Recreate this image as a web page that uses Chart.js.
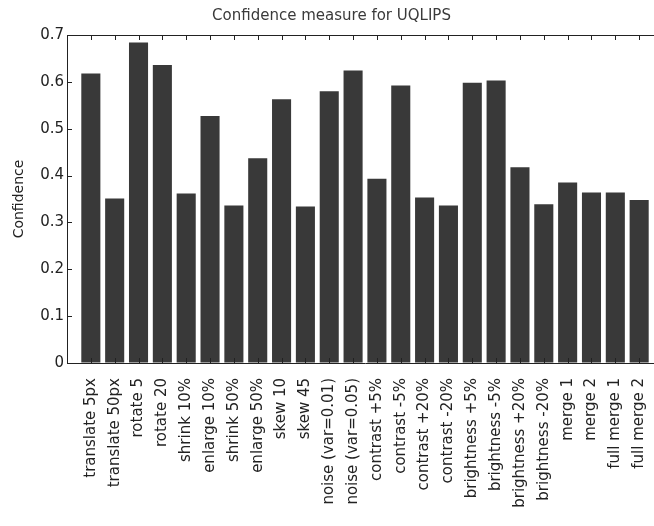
<!DOCTYPE html>
<html>
<head>
<meta charset="utf-8">
<title>Confidence measure for UQLIPS</title>
<script src="https://cdn.jsdelivr.net/npm/chart.js@4"></script>
<style>
    html, body { margin: 0; padding: 0; background: #fff; overflow: hidden; }
    #wrap { width: 654px; height: 526px; overflow: hidden; }
    canvas { display: block; }
</style>
</head>
<body>
<div id="wrap"><canvas id="confChart" width="670" height="526"></canvas></div>
<script>
// Distortions applied to the images
const categories = [
    'translate 5px', 'translate 50px', 'rotate 5', 'rotate 20',
    'shrink 10%', 'enlarge 10%', 'shrink 50%', 'enlarge 50%',
    'skew 10', 'skew 45', 'noise (var=0.01)', 'noise (var=0.05)',
    'contrast +5%', 'contrast -5%', 'contrast +20%', 'contrast -20%',
    'brightness +5%', 'brightness -5%', 'brightness +20%', 'brightness -20%',
    'merge 1', 'merge 2', 'full merge 1', 'full merge 2'
];

// Confidence
const confidence = [
    0.618, 0.351, 0.684, 0.636,
    0.362, 0.527, 0.336, 0.437,
    0.563, 0.334, 0.580, 0.624,
    0.393, 0.592, 0.353, 0.336,
    0.598, 0.603, 0.418, 0.339,
    0.385, 0.364, 0.364, 0.348
];

const yTicks = [0, 0.1, 0.2, 0.3, 0.4, 0.5, 0.6, 0.7];

const labelFont = 'DejaVu Sans';
const inkColor = '#222';

// MATLAB style box: top edge plus inward tick marks
const boxTicks = {
    id: 'boxTicks',
    afterDatasetsDraw(chart) {
        const { ctx, chartArea, scales } = chart;
        const len = 5;
        ctx.save();
        ctx.strokeStyle = inkColor;
        ctx.lineWidth = 1;
        ctx.beginPath();
        ctx.moveTo(chartArea.left, chartArea.top + 0.5);
        ctx.lineTo(chartArea.right, chartArea.top + 0.5);
        ctx.moveTo(chartArea.right - 0.5, chartArea.top);
        ctx.lineTo(chartArea.right - 0.5, chartArea.bottom);
        categories.forEach((c, i) => {
            const x = Math.round(scales.x.getPixelForValue(i + 1)) + 0.5;
            ctx.moveTo(x, chartArea.top);
            ctx.lineTo(x, chartArea.top + len);
            ctx.moveTo(x, chartArea.bottom);
            ctx.lineTo(x, chartArea.bottom - len);
        });
        yTicks.forEach(v => {
            const y = Math.round(scales.y.getPixelForValue(v)) + 0.5;
            ctx.moveTo(chartArea.left, y);
            ctx.lineTo(chartArea.left + len, y);
            ctx.moveTo(chartArea.right, y);
            ctx.lineTo(chartArea.right - len, y);
        });
        ctx.stroke();
        ctx.restore();
    }
};

const ctx = document.getElementById('confChart').getContext('2d');
new Chart(ctx, {
    type: 'bar',
    data: {
        datasets: [{
            data: confidence.map((v, i) => ({ x: i + 1, y: v })),
            backgroundColor: '#393939',
            borderWidth: 0,
            barPercentage: 0.8,
            categoryPercentage: 1
        }]
    },
    options: {
        responsive: false,
        animation: false,
        devicePixelRatio: 1,
        layout: { padding: { left: 0, right: 7, top: 0, bottom: 0 } },
        plugins: {
            legend: { display: false },
            tooltip: { enabled: false },
            title: {
                display: true,
                text: 'Confidence measure for UQLIPS',
                color: '#3a3a3a',
                font: { family: labelFont, size: 15, weight: 'normal' },
                padding: { top: 7, bottom: 10 }
            }
        },
        scales: {
            x: {
                type: 'linear',
                min: 0,
                max: 25,
                offset: false,
                grid: { drawOnChartArea: false, drawTicks: false },
                border: { display: true, color: inkColor, width: 1 },
                ticks: {
                    stepSize: 1,
                    autoSkip: false,
                    maxRotation: 90,
                    minRotation: 90,
                    padding: 15,
                    color: inkColor,
                    font: { family: labelFont, size: 15 },
                    callback: value => categories[value - 1] || ''
                },
                afterFit: scale => {
                    scale.height = 163;
                    scale.paddingLeft = 0;
                    scale.paddingRight = 0;
                }
            },
            y: {
                min: 0,
                max: 0.7,
                grid: { drawOnChartArea: false, drawTicks: false },
                border: { display: true, color: inkColor, width: 1 },
                ticks: {
                    stepSize: 0.1,
                    padding: 3,
                    color: inkColor,
                    font: { family: labelFont, size: 15 },
                    callback: value => value === 0 ? '0' : value.toFixed(1)
                },
                title: {
                    display: true,
                    text: 'Confidence',
                    color: inkColor,
                    font: { family: labelFont, size: 14 },
                    padding: { top: 11, bottom: 0 }
                },
                afterFit: scale => { scale.width = 67; }
            }
        }
    },
    plugins: [boxTicks]
});
</script>
</body>
</html>
